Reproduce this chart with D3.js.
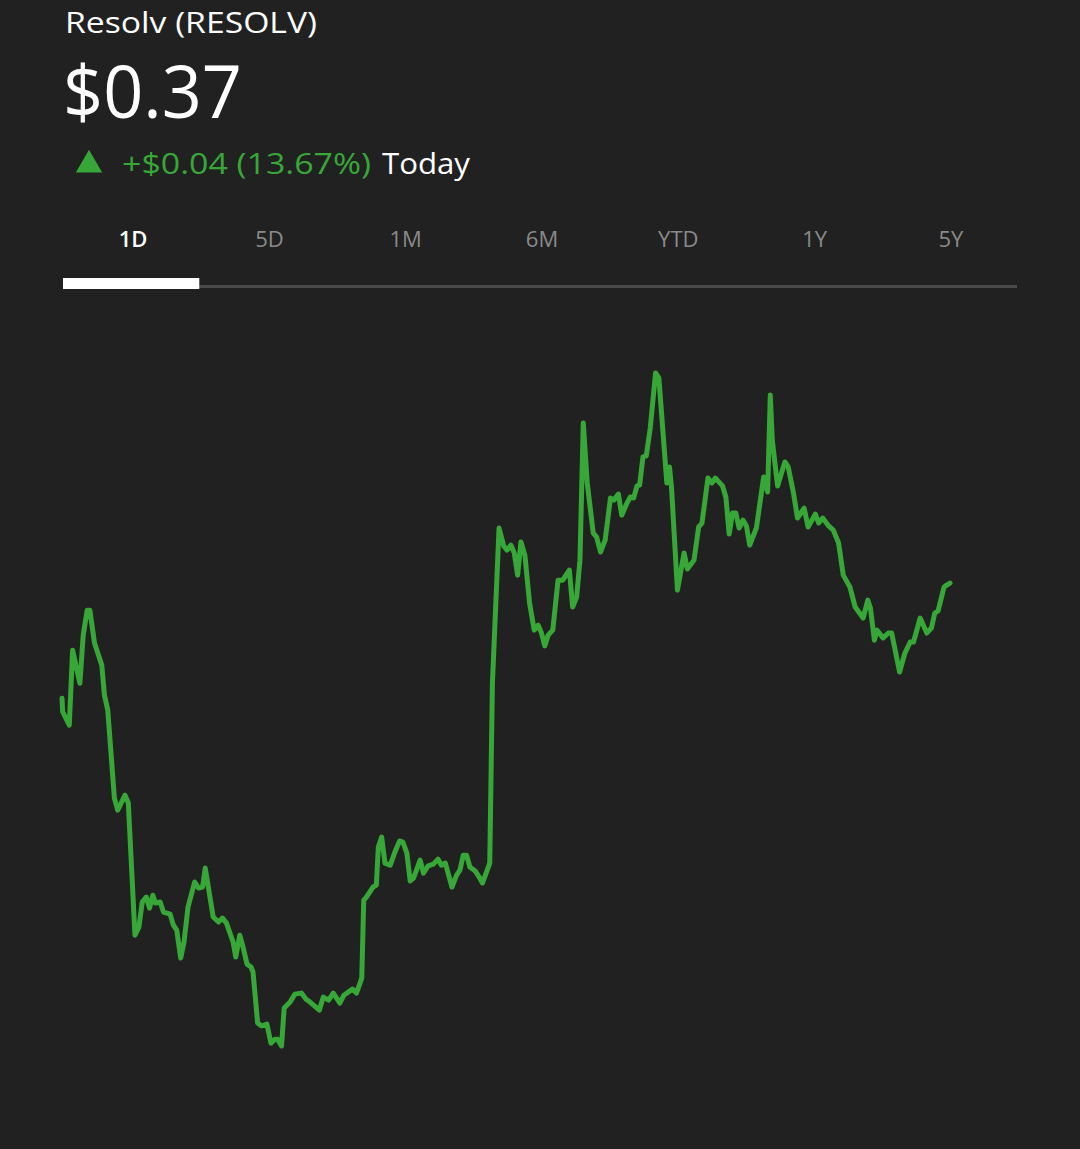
<!DOCTYPE html>
<html>
<head>
<meta charset="utf-8">
<script src="https://cdn.jsdelivr.net/npm/d3@7"></script>
<style>
  html, body { margin: 0; padding: 0; background: #212121; }
  svg { display: block; }
</style>
</head>
<body>
<svg id="chart" width="1080" height="1149"></svg>
<script>
// ---- Data ----
const tickerName = "Resolv (RESOLV)";
const priceLabel = "$0.37";
const changeLabel = "+$0.04 (13.67%)";
const periodLabel = "Today";
const rangeTabs = ["1D", "5D", "1M", "6M", "YTD", "1Y", "5Y"];
const activeTab = "1D";
const dayMinutes = 1440;

// minutes since start of day
const times = [0,1,11,16,27,32,38,42,49,60,64,69,79,84,95,100,110,116,121,127,132,137,141,148,153,163,168,173,179,184,190,200,206,212,216,228,236,242,248,258,262,268,273,279,285,288,295,301,309,315,321,325,331,335,344,351,361,368,374,388,394,402,409,419,425,438,444,452,455,459,469,474,477,482,487,495,502,509,514,520,525,530,540,545,552,560,567,572,578,588,595,600,605,610,615,623,629,634,645,649,659,666,671,677,682,687,692,698,705,712,718,723,728,733,740,748,755,765,770,776,781,786,792,801,806,812,819,827,832,839,844,852,857,862,867,871,876,881,887,895,900,912,916,919,928,938,943,953,960,965,974,980,985,996,1001,1006,1011,1016,1021,1027,1032,1037,1047,1058,1064,1068,1071,1079,1090,1095,1103,1109,1119,1125,1136,1141,1147,1156,1163,1171,1178,1188,1196,1208,1215,1219,1225,1229,1238,1246,1251,1263,1271,1279,1284,1294,1304,1311,1316,1321,1330,1334,1339];
// price in USD
const prices = [0.3262,0.3211,0.3160,0.3445,0.3319,0.3502,0.3597,0.3597,0.3472,0.3388,0.3274,0.3217,0.2883,0.2837,0.2894,0.2864,0.2362,0.2393,0.2488,0.2507,0.2465,0.2514,0.2484,0.2488,0.2450,0.2442,0.2400,0.2381,0.2275,0.2336,0.2469,0.2564,0.2541,0.2545,0.2617,0.2431,0.2412,0.2427,0.2408,0.2336,0.2279,0.2362,0.2317,0.2252,0.2241,0.2222,0.2028,0.2017,0.2024,0.1952,0.1967,0.1967,0.1941,0.2085,0.2108,0.2138,0.2142,0.2119,0.2108,0.2077,0.2127,0.2115,0.2142,0.2104,0.2134,0.2157,0.2142,0.2199,0.2495,0.2507,0.2545,0.2552,0.2697,0.2735,0.2636,0.2628,0.2678,0.2720,0.2716,0.2674,0.2568,0.2579,0.2647,0.2598,0.2625,0.2632,0.2651,0.2628,0.2636,0.2545,0.2590,0.2609,0.2666,0.2666,0.2621,0.2606,0.2583,0.2560,0.2636,0.3320,0.3909,0.3841,0.3825,0.3844,0.3814,0.3730,0.3856,0.3806,0.3624,0.3521,0.3540,0.3510,0.3461,0.3502,0.3521,0.3711,0.3711,0.3749,0.3609,0.3647,0.3787,0.4308,0.4080,0.3890,0.3875,0.3818,0.3863,0.4023,0.4015,0.4038,0.3958,0.4004,0.4027,0.4023,0.4069,0.4072,0.4179,0.4183,0.4289,0.4498,0.4479,0.4080,0.4141,0.4065,0.3673,0.3814,0.3753,0.3787,0.3913,0.3928,0.4099,0.4080,0.4099,0.4069,0.4027,0.3886,0.3966,0.3966,0.3909,0.3939,0.3917,0.3844,0.3909,0.4103,0.4046,0.4414,0.4243,0.4069,0.4160,0.4141,0.4042,0.3947,0.3985,0.3913,0.3962,0.3928,0.3947,0.3917,0.3901,0.3852,0.3730,0.3685,0.3609,0.3567,0.3635,0.3605,0.3483,0.3521,0.3491,0.3510,0.3510,0.3362,0.3434,0.3476,0.3476,0.3567,0.3510,0.3529,0.3586,0.3594,0.3685,0.3692,0.3700];

// ---- Drawing ----
const svg = d3.select("#chart");
const green = "#37a837";
const font = "'Open Sans', 'Noto Sans', sans-serif";

svg.append("rect").attr("width", 1080).attr("height", 1149).attr("fill", "#212121");

// Header
svg.append("text").attr("x", 65).attr("y", 33)
  .attr("fill", "#ffffff").attr("font-family", font).attr("font-size", 30)
  .attr("textLength", 252).attr("lengthAdjust", "spacingAndGlyphs")
  .text(tickerName);

svg.append("text").attr("x", 63).attr("y", 118)
  .attr("fill", "#ffffff").attr("font-family", font).attr("font-size", 74)
  .attr("textLength", 179).attr("lengthAdjust", "spacingAndGlyphs")
  .text(priceLabel);

svg.append("path")
  .attr("d", d3.symbol().type(d3.symbolTriangle).size(300)())
  .attr("transform", "translate(89,165)")
  .attr("fill", green);

svg.append("text").attr("x", 122).attr("y", 174)
  .attr("font-family", font).attr("font-size", 30)
  .attr("fill", green)
  .attr("textLength", 249).attr("lengthAdjust", "spacingAndGlyphs")
  .text(changeLabel);
svg.append("text").attr("x", 382).attr("y", 174)
  .attr("font-family", font).attr("font-size", 30)
  .attr("fill", "#ffffff")
  .attr("textLength", 88).attr("lengthAdjust", "spacingAndGlyphs")
  .text(periodLabel);

// Tabs
const tabX = d3.scaleBand().domain(rangeTabs).range([63, 1017]);
svg.selectAll("text.tab").data(rangeTabs).join("text")
  .attr("class", "tab")
  .attr("x", d => tabX(d) + tabX.bandwidth() / 2 + 2)
  .attr("y", 247)
  .attr("text-anchor", "middle")
  .attr("font-family", font).attr("font-size", 22)
  .attr("font-weight", d => d === activeTab ? 600 : 400)
  .attr("fill", d => d === activeTab ? "#ffffff" : "#8a8a8a")
  .text(d => d);

svg.append("rect").attr("x", 63).attr("y", 285).attr("width", 954).attr("height", 3).attr("fill", "#4a4a4a");
svg.append("rect").attr("x", tabX(activeTab)).attr("y", 278).attr("width", tabX.bandwidth()).attr("height", 11).attr("fill", "#ffffff");

// Line chart
const x = d3.scaleLinear().domain([0, dayMinutes]).range([62, 1017]);
const y = d3.scaleLinear().domain(d3.extent(prices)).range([1046, 373]);
const data = times.map((t, i) => ({ t, p: prices[i] }));

svg.append("path")
  .datum(data)
  .attr("fill", "none")
  .attr("stroke", green)
  .attr("stroke-width", 5)
  .attr("stroke-linejoin", "round")
  .attr("stroke-linecap", "round")
  .attr("d", d3.line().x(d => x(d.t)).y(d => y(d.p)));
</script>
</body>
</html>
